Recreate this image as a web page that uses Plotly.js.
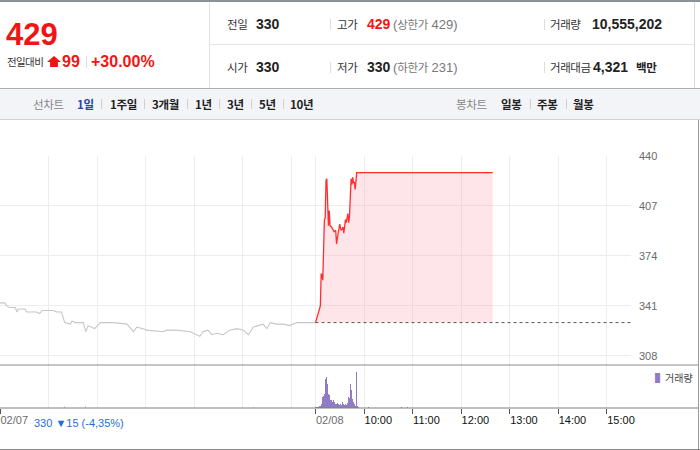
<!DOCTYPE html>
<html><head><meta charset="utf-8">
<script src="https://cdn.plot.ly/plotly-3.0.1.min.js"></script>
<style>
body{margin:0;width:700px;height:450px;overflow:hidden;background:#fff;font-family:"Liberation Sans","Noto Sans CJK KR",sans-serif;position:relative;}
.a{position:absolute;white-space:nowrap;line-height:20px;height:20px;}
.k{font-family:"Noto Sans CJK KR",sans-serif;font-size:11.5px;letter-spacing:-0.4px;color:#333;}
.v{font-size:14px;font-weight:bold;color:#222;}
.g{font-size:13px;color:#777;}
.gk{font-family:"Noto Sans CJK KR",sans-serif;font-size:11.5px;letter-spacing:-0.4px;}
.r{color:#f21414;}
.ln{position:absolute;}
.t{font-family:"Noto Sans CJK KR",sans-serif;font-size:11.5px;letter-spacing:-0.3px;font-weight:bold;color:#222;}
.tg{font-family:"Noto Sans CJK KR",sans-serif;font-size:11.5px;letter-spacing:-0.3px;color:#888;}
#chart{position:absolute;left:0;top:120px;width:700px;height:330px;}
</style></head>
<body>
<!-- header -->
<div class="ln" style="left:0;top:0;width:700px;height:2px;background:#8c9099"></div>
<div class="ln" style="left:209px;top:2px;width:1px;height:86px;background:#e2e2e2"></div>
<div class="ln" style="left:210px;top:44px;width:484px;height:1px;background:#e6e6e6"></div>
<div class="ln" style="left:694px;top:2px;width:1px;height:86px;background:#d8d8d8"></div>

<div class="a r" style="left:6px;top:17px;height:36px;line-height:36px;font-size:31px;font-weight:bold;">429</div>
<div class="a" style="left:7px;top:52px;font-family:'Noto Sans CJK KR';font-size:10.5px;letter-spacing:-0.6px;color:#333;">전일대비</div>
<div class="ln" style="left:47px;top:56px;width:14px;height:11px;background:#f21414;clip-path:polygon(50% 0,100% 55%,78% 55%,78% 100%,22% 100%,22% 55%,0 55%);"></div>
<div class="a r" style="left:62px;top:52px;font-size:16px;font-weight:bold;">99</div>
<div class="ln" style="left:86px;top:56px;width:1px;height:12px;background:#ddd"></div>
<div class="a r" style="left:91px;top:52px;font-size:16px;font-weight:bold;">+30.00%</div>

<div class="a k" style="left:227px;top:14px;">전일</div>
<div class="a v" style="left:256px;top:14px;">330</div>
<div class="ln" style="left:330px;top:19px;width:1px;height:11px;background:#ddd"></div>
<div class="a k" style="left:337px;top:14px;">고가</div>
<div class="a v r" style="left:367px;top:14px;">429</div>
<div class="a g" style="left:393px;top:14px;">(<span class="gk">상한가</span> 429)</div>
<div class="ln" style="left:544px;top:19px;width:1px;height:11px;background:#ddd"></div>
<div class="a k" style="left:550px;top:14px;">거래량</div>
<div class="a v" style="left:592px;top:14px;">10,555,202</div>

<div class="a k" style="left:227px;top:57px;">시가</div>
<div class="a v" style="left:256px;top:57px;">330</div>
<div class="ln" style="left:330px;top:62px;width:1px;height:11px;background:#ddd"></div>
<div class="a k" style="left:337px;top:57px;">저가</div>
<div class="a v" style="left:367px;top:57px;">330</div>
<div class="a g" style="left:393px;top:57px;">(<span class="gk">하한가</span> 231)</div>
<div class="ln" style="left:544px;top:62px;width:1px;height:11px;background:#ddd"></div>
<div class="a k" style="left:550px;top:57px;">거래대금</div>
<div class="a v" style="left:593px;top:57px;">4,321</div>
<div class="a k" style="left:636px;top:57px;font-weight:bold;color:#222;">백만</div>

<!-- tab bar -->
<div class="ln" style="left:0;top:88px;width:700px;height:32px;background:#f3f4f8;border-top:1px solid #a9adb5;border-bottom:1px solid #cfd2d8;box-sizing:border-box;"></div>
<div class="a tg" style="left:33px;top:94px;">선차트</div>
<div class="a t" style="left:77px;top:94px;color:#2743a6;">1일</div>
<div class="ln" style="left:101px;top:99px;width:1px;height:10px;background:#d0d0d0"></div>
<div class="a t" style="left:110px;top:94px;">1주일</div>
<div class="ln" style="left:144px;top:99px;width:1px;height:10px;background:#d0d0d0"></div>
<div class="a t" style="left:152px;top:94px;">3개월</div>
<div class="ln" style="left:187px;top:99px;width:1px;height:10px;background:#d0d0d0"></div>
<div class="a t" style="left:195px;top:94px;">1년</div>
<div class="ln" style="left:219px;top:99px;width:1px;height:10px;background:#d0d0d0"></div>
<div class="a t" style="left:227px;top:94px;">3년</div>
<div class="ln" style="left:251px;top:99px;width:1px;height:10px;background:#d0d0d0"></div>
<div class="a t" style="left:259px;top:94px;">5년</div>
<div class="ln" style="left:283px;top:99px;width:1px;height:10px;background:#d0d0d0"></div>
<div class="a t" style="left:290px;top:94px;">10년</div>
<div class="a tg" style="left:456px;top:94px;">봉차트</div>
<div class="a t" style="left:501px;top:94px;">일봉</div>
<div class="ln" style="left:530px;top:99px;width:1px;height:10px;background:#d0d0d0"></div>
<div class="a t" style="left:537px;top:94px;">주봉</div>
<div class="ln" style="left:566px;top:99px;width:1px;height:10px;background:#d0d0d0"></div>
<div class="a t" style="left:573px;top:94px;">월봉</div>

<div id="chart"></div>
<div class="ln" style="left:698px;top:120px;width:1px;height:330px;background:#9a9a9a"></div>
<div class="ln" style="left:0;top:449px;width:700px;height:1px;background:#8a8a8a"></div>

<script>
// ---- data ----
const prevClose = 330;            // 02/08 기준 전일 종가
const dayMinutes = 390;           // 09:00 - 15:30
// 02/07 intraday (minutes after 09:00)
const prevTimes  = [0,6,8,12,19,21,23,31,33,45,49,52,66,70,76,80,87,89,93,103,106,109,117,124,140,157,165,169,177,181,202,206,218,235,243,247,251,257,262,268,276,284,293,301,307,313,319,325,330,334,342,350,358,367,387,390];
const prevPrices = [343,343,341,340,340,337,339,339,337,337,336,338,338,337,337,330,329,331,330,330,324,328,326,330,330,329,324,327,326,325,324,325,325,324,322,321,324,325,322,323,322,325,326,325,322,327,328,329,326,330,329,329,328,330,330,330];
// 02/08 intraday (minutes after 09:00)
const todayTimes  = [0,3,5,6,7,8,9,11,12,13,14,16,17,18,20,22,23,25,26,28,30,31,32,34,35,37,38,40,41,42,44,45,46,47,48,49,51,219];
const todayPrices = [330,336,339,341,362,362,358,398,399,424,425,394,404,394,393,391,390,391,382,389,395,392,391,393,389,398,396,402,396,400,425,421,426,422,423,418,429,429];
// volume
const prevVolTimes = [80,106,313];
const prevVolumes  = [45000,45000,30000];
const todayVolTimes = [0,1,2,3,4,5,6,7,8,9,10,11,12,13,14,15,16,17,18,19,20,21,22,23,24,25,26,27,28,29,30,31,32,33,34,35,36,37,38,39,40,41,42,43,44,45,46,47,48,49,50,51,52,53,55,60,66,81,106,114];
const todayVolumes  = [23000,12000,12000,23000,23000,39000,46000,99000,138000,253000,276000,329000,667000,775000,713000,552000,329000,292000,214000,177000,177000,138000,191000,138000,115000,99000,81000,122000,81000,115000,69000,99000,69000,138000,69000,99000,58000,85000,69000,99000,115000,253000,230000,545000,407000,329000,214000,138000,99000,46000,46000,828000,39000,23000,16000,16000,16000,16000,16000,16000];
// axis ticks
const priceTicks = [308,341,374,407,440];
const hourGrid   = [60,120,180,240,300,360];
const labelTicks = [0,390,450,510,570,630,690,750];
const labelText  = ['02/07','02/08','10:00','11:00','12:00','13:00','14:00','15:00'];
const prevSummary = '330 ▼15 (-4,35%)';

const todayX = todayTimes.map(t => t + dayMinutes);
const todayVolX = todayVolTimes.map(t => t + dayMinutes);

const traces = [
  {x: prevTimes, y: prevPrices, type:'scatter', mode:'lines', line:{color:'#c6c6cc', width:1.1}, xaxis:'x', yaxis:'y', hoverinfo:'skip'},
  {x: todayX, y: todayX.map(() => prevClose), type:'scatter', mode:'lines', line:{width:0, color:'rgba(0,0,0,0)'}, xaxis:'x', yaxis:'y', hoverinfo:'skip'},
  {x: todayX, y: todayPrices, type:'scatter', mode:'lines', line:{color:'#ff2e2e', width:1.3}, fill:'tonexty', fillcolor:'rgba(248,160,172,0.27)', xaxis:'x', yaxis:'y', hoverinfo:'skip'},
  {x: [dayMinutes, 2*dayMinutes], y: [prevClose, prevClose], type:'scatter', mode:'lines', line:{color:'#555', width:1, dash:'dot'}, xaxis:'x', yaxis:'y', hoverinfo:'skip'},
  {x: prevVolTimes, y: prevVolumes, type:'bar', marker:{color:'#cfcfd4', line:{width:0}}, width:1, xaxis:'x', yaxis:'y2', hoverinfo:'skip'},
  {x: todayVolX, y: todayVolumes, type:'bar', marker:{color:'#8f7cc2', line:{width:0}}, width:1, xaxis:'x', yaxis:'y2', hoverinfo:'skip'}
];

const layout = {
  width:700, height:330,
  margin:{l:0, r:69, t:36, b:42},
  paper_bgcolor:'rgba(0,0,0,0)', plot_bgcolor:'rgba(0,0,0,0)',
  showlegend:false, bargap:0,
  font:{family:'Liberation Sans, Noto Sans CJK KR, sans-serif', size:11, color:'#222'},
  xaxis:{
    range:[0, 2*dayMinutes], anchor:'y2', fixedrange:true,
    tickmode:'array', tickvals:labelTicks,
    ticktext: labelText.map((s,i) => i < 2 ? '<span style="color:#6b6b6b">'+s+'</span>' : s),
    ticks:'outside', ticklen:5, tickwidth:1, tickcolor:'#555',
    ticklabelposition:'outside right', ticklabelstandoff:2,
    tickfont:{size:11, color:'#111', family:'Liberation Sans, sans-serif'},
    showgrid:true, gridcolor:'#ededed', gridwidth:1,
    minor:{tickmode:'array', tickvals:hourGrid, showgrid:true, gridcolor:'#ededed', ticks:''},
    showline:false, zeroline:false
  },
  yaxis:{
    domain:[0.1706, 1], range:[302, 440], side:'right', anchor:'x', fixedrange:true,
    tickmode:'array', tickvals:priceTicks, ticks:'',
    tickfont:{size:11, color:'#6a6a6a', family:'Liberation Sans, sans-serif'},
    ticklabelstandoff:7,
    showgrid:true, gridcolor:'#ededed', zeroline:false, showline:false
  },
  yaxis2:{
    domain:[0, 0.1706], range:[0, 990000], anchor:'x', fixedrange:true,
    showticklabels:false, showgrid:false, zeroline:false, ticks:'', showline:false
  },
  shapes:[
    {type:'line', xref:'paper', yref:'y2 domain', x0:0, x1:698/631, y0:1, y1:1, line:{color:'#8c8c8c', width:1}},
    {type:'line', xref:'paper', yref:'y2 domain', x0:0, x1:698/631, y0:0, y1:0, line:{color:'#7d7d7d', width:1}}
  ],
  annotations:[
    {xref:'x', yref:'y2 domain', x:0, y:0, xanchor:'left', yanchor:'top', xshift:32, yshift:-7, showarrow:false,
     text:prevSummary, font:{size:11, color:'#1f6fd6', family:'Liberation Sans, sans-serif'}},
    {xref:'paper', yref:'y2 domain', x:653/631, y:1, xanchor:'left', yanchor:'top', yshift:-3, showarrow:false,
     text:'<span style="color:#8f7cc2">▌</span>거래량', font:{size:10, color:'#444', family:'Noto Sans CJK KR, sans-serif'}}
  ]
};

Plotly.newPlot('chart', traces, layout, {staticPlot:true, displayModeBar:false});
</script>
</body></html>
